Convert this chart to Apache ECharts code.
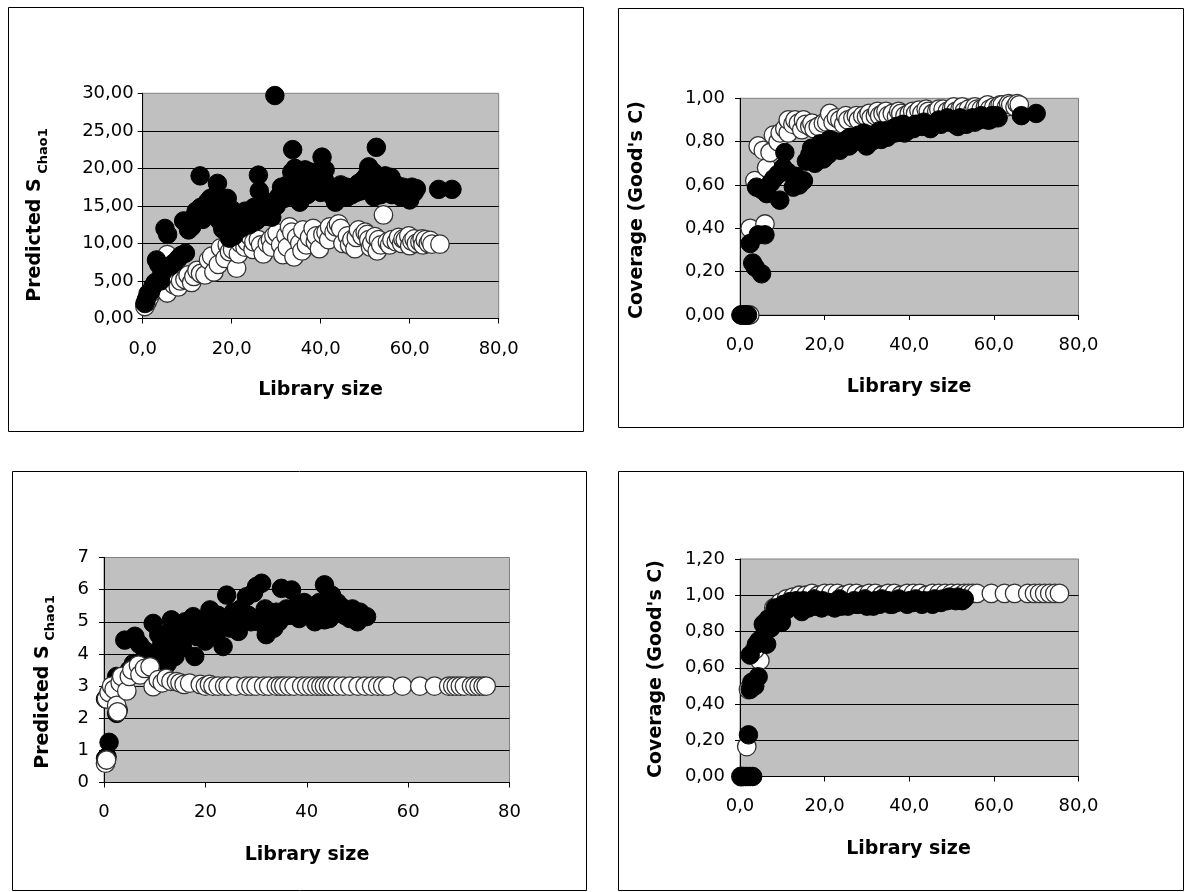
<!DOCTYPE html>
<html><head><meta charset="utf-8">
<script src="https://cdn.jsdelivr.net/npm/echarts@6/dist/echarts.min.js"></script>
<style>html,body{margin:0;padding:0;background:#fff;}#c{width:1192px;height:892px;}</style>
</head><body><div id="c"></div>
<script>
// ---------- tick labels ----------
const xTicksComma = ['0,0','20,0','40,0','60,0','80,0'];
const xTicksPlain = ['0','20','40','60','80'];
const p1YTicks = ['0,00','5,00','10,00','15,00','20,00','25,00','30,00'];
const p2YTicks = ['0,00','0,20','0,40','0,60','0,80','1,00'];
const p3YTicks = ['0','1','2','3','4','5','6','7'];
const p4YTicks = ['0,00','0,20','0,40','0,60','0,80','1,00','1,20'];

// ---------- panel 1: Predicted S Chao1 ----------
const p1Open = [[0.5,1.6],[1.0,2.2],[1.5,2.8],[2.0,3.5],[2.5,4.2],[3.0,4.0],[3.5,4.8],[4.5,3.8],[5.5,3.4],[5.5,8.5],[6.5,5.0],[7.0,4.5],[8.0,4.2],[8.5,5.0],[9.5,5.2],[10.2,5.8],[11.0,4.8],[11.5,5.6],[12.2,6.4],[13.0,6.0],[14.0,5.8],[14.8,7.8],[15.5,8.3],[16.0,6.2],[17.0,7.2],[17.5,9.4],[18.5,8.0],[19.0,9.8],[19.5,8.9],[20.2,9.2],[21.1,6.7],[21.5,8.6],[22.0,10.0],[23.0,9.5],[23.5,10.2],[24.2,10.9],[24.8,9.2],[25.0,10.2],[26.0,10.5],[26.5,9.8],[27.1,8.6],[28.0,10.0],[28.7,10.5],[29.0,9.5],[29.5,11.0],[30.2,11.4],[31.0,9.8],[31.5,8.5],[32.2,11.0],[32.5,9.5],[33.0,12.2],[33.5,11.5],[34.0,8.2],[34.6,10.8],[35.3,10.0],[35.8,9.0],[36.0,11.8],[36.8,9.8],[37.5,10.8],[38.3,12.0],[38.8,10.2],[39.0,11.0],[39.7,9.3],[40.5,11.2],[41.2,11.5],[41.8,10.5],[42.0,12.2],[43.0,11.5],[43.5,12.2],[44.0,12.6],[44.5,12.0],[45.0,10.0],[46.0,11.0],[46.5,9.8],[47.0,10.5],[47.7,9.3],[48.0,10.8],[48.5,11.8],[49.3,11.0],[50.0,11.5],[50.5,11.2],[50.8,10.5],[51.2,9.5],[51.5,10.0],[52.2,10.9],[52.7,9.0],[53.0,10.5],[53.5,9.8],[54.1,13.8],[55.0,10.2],[55.5,9.8],[56.0,10.5],[57.0,10.2],[57.5,10.8],[58.2,10.0],[58.5,10.6],[59.0,10.5],[59.8,11.0],[60.0,9.7],[60.5,10.3],[61.0,10.6],[61.5,10.0],[62.3,10.2],[62.8,10.6],[63.0,9.8],[63.5,10.5],[64.2,10.0],[64.6,10.4],[65.0,9.9],[66.8,9.9]];
const p1Filled = [[0.5,2.0],[0.8,2.5],[1.2,3.3],[1.8,3.6],[2.3,4.3],[2.8,4.8],[3.1,7.8],[3.6,7.2],[4.0,5.0],[4.3,6.0],[5.0,12.0],[5.6,11.2],[6.2,7.0],[7.0,7.4],[8.0,8.0],[8.6,8.4],[9.2,13.0],[9.6,8.7],[10.3,11.8],[11.0,12.2],[11.5,13.5],[12.0,14.3],[12.9,19.0],[13.0,14.8],[13.5,13.2],[14.0,13.8],[14.5,15.5],[15.2,16.0],[15.8,14.2],[16.2,15.2],[16.5,16.5],[16.8,18.0],[17.0,14.5],[17.3,13.0],[17.8,15.7],[18.0,11.9],[18.5,12.8],[18.8,14.8],[19.0,16.0],[19.5,10.7],[20.0,14.5],[20.5,11.0],[21.0,13.5],[21.5,12.5],[22.0,12.0],[22.5,13.8],[23.0,14.3],[23.5,13.2],[24.0,12.5],[24.5,14.0],[25.0,14.8],[25.5,13.0],[26.0,19.1],[26.2,17.0],[26.8,14.5],[27.0,15.8],[27.5,13.6],[28.0,15.2],[28.5,14.0],[29.0,13.5],[29.7,29.7],[30.0,15.0],[30.5,16.2],[31.2,17.5],[31.8,16.0],[32.0,16.8],[32.5,17.8],[33.0,18.0],[33.5,19.5],[33.7,22.5],[34.2,20.0],[34.5,17.0],[34.8,19.0],[35.3,15.5],[35.8,17.2],[36.0,18.5],[36.5,19.8],[37.0,16.5],[37.5,18.0],[37.8,19.5],[38.0,17.0],[38.5,18.8],[39.0,19.5],[39.5,17.2],[40.0,16.8],[40.3,21.5],[40.8,18.5],[41.0,19.8],[41.5,17.8],[42.0,17.5],[42.5,16.4],[43.0,17.0],[43.3,15.5],[44.0,16.5],[44.5,17.8],[45.2,16.8],[45.8,17.5],[46.0,16.2],[46.5,16.8],[47.0,16.5],[47.5,17.0],[48.0,16.8],[48.5,18.0],[49.0,17.0],[49.6,18.5],[50.0,17.5],[50.3,19.0],[50.8,20.2],[51.0,18.5],[51.5,17.0],[51.8,19.5],[52.0,16.2],[52.5,22.8],[53.0,18.8],[53.5,16.5],[53.8,17.5],[54.5,19.0],[54.8,17.8],[55.5,17.2],[55.8,18.8],[56.0,16.5],[56.8,17.0],[57.0,17.8],[57.5,16.8],[58.0,16.2],[58.5,17.5],[59.0,17.0],[59.5,16.3],[60.0,15.8],[60.5,17.5],[61.0,16.8],[61.5,17.3],[66.5,17.2],[69.5,17.2]];

// ---------- panel 2: Coverage ----------
const p2Open = [[0.5,0],[1.2,0],[2.3,0],[2.4,0.40],[5.9,0.42],[3.5,0.62],[6.3,0.68],[4.3,0.78],[5.5,0.76],[7.1,0.75],[7.9,0.83],[9.0,0.80],[9.5,0.84],[10.6,0.86],[11.4,0.84],[11.4,0.90],[12.5,0.88],[13.0,0.90],[13.8,0.885],[14.6,0.855],[15.0,0.90],[15.5,0.88],[16.5,0.87],[17.0,0.885],[17.5,0.86],[18.5,0.87],[19.7,0.885],[20.5,0.89],[21.2,0.93],[22.0,0.89],[22.8,0.91],[23.6,0.90],[24.5,0.88],[25.0,0.92],[25.5,0.90],[26.7,0.91],[27.5,0.92],[28.0,0.90],[29.0,0.92],[29.9,0.915],[30.5,0.93],[31.0,0.91],[32.0,0.92],[32.5,0.94],[33.0,0.92],[33.8,0.93],[34.5,0.94],[35.0,0.92],[36.0,0.93],[37.0,0.915],[37.5,0.94],[38.0,0.93],[39.0,0.92],[40.0,0.93],[40.8,0.94],[41.5,0.93],[42.3,0.945],[43.0,0.93],[44.0,0.95],[44.5,0.94],[45.5,0.93],[46.5,0.94],[47.0,0.95],[48.0,0.95],[49.0,0.94],[50.0,0.95],[50.5,0.96],[51.0,0.94],[52.0,0.95],[52.5,0.96],[53.0,0.94],[54.0,0.95],[55.0,0.94],[55.5,0.96],[56.0,0.95],[57.0,0.95],[58.0,0.96],[58.5,0.97],[59.0,0.95],[60.0,0.96],[61.0,0.96],[61.5,0.97],[62.0,0.97],[63.0,0.96],[63.5,0.975],[64.0,0.97],[65.0,0.96],[65.5,0.975],[66.0,0.97]];
const p2Filled = [[0.2,0],[0.6,0],[1.0,0],[1.4,0],[1.8,0],[2.4,0.33],[3.0,0.24],[3.6,0.22],[4.3,0.37],[5.1,0.19],[5.9,0.37],[3.9,0.59],[5.0,0.58],[6.3,0.56],[7.3,0.61],[8.0,0.63],[9.4,0.53],[9.0,0.65],[10.2,0.68],[10.6,0.75],[11.2,0.66],[12.6,0.59],[13.2,0.64],[14.0,0.60],[15.0,0.62],[15.7,0.71],[16.5,0.74],[16.9,0.77],[17.2,0.74],[17.7,0.70],[18.3,0.75],[18.9,0.79],[19.2,0.76],[19.7,0.72],[20.3,0.78],[20.8,0.74],[21.2,0.81],[22.0,0.79],[22.5,0.80],[23.0,0.78],[23.6,0.76],[24.5,0.80],[25.3,0.81],[25.8,0.78],[26.0,0.82],[27.0,0.80],[27.5,0.82],[28.0,0.83],[28.8,0.81],[29.3,0.84],[29.9,0.78],[30.7,0.83],[31.0,0.80],[31.5,0.82],[32.5,0.84],[33.0,0.85],[33.4,0.81],[34.3,0.85],[34.8,0.82],[35.0,0.84],[36.2,0.86],[36.6,0.84],[37.0,0.87],[38.0,0.86],[38.5,0.88],[38.9,0.84],[39.5,0.85],[40.0,0.87],[41.0,0.86],[41.5,0.88],[42.0,0.88],[43.0,0.87],[43.5,0.89],[44.4,0.87],[45.0,0.86],[45.5,0.88],[46.5,0.89],[47.0,0.90],[47.5,0.88],[48.5,0.90],[49.0,0.91],[49.5,0.89],[50.2,0.90],[50.8,0.88],[51.5,0.87],[52.0,0.91],[52.5,0.89],[53.0,0.90],[53.5,0.88],[54.5,0.90],[55.0,0.91],[55.5,0.89],[56.5,0.90],[57.0,0.92],[57.5,0.91],[58.5,0.90],[59.0,0.90],[59.5,0.92],[60.2,0.91],[60.6,0.92],[61.0,0.91],[66.5,0.92],[70.0,0.93]];

// ---------- panel 3: Predicted S Chao1 ----------
const p3Filled = [[0.3,0.75],[0.6,0.8],[1.0,1.25],[0.3,2.6],[0.8,2.7],[1.5,2.8],[2.5,3.3],[2.8,2.25],[2.5,2.15],[3.5,3.2],[4.1,4.43],[5.0,3.5],[5.8,3.7],[6.1,4.55],[7.0,4.3],[8.1,4.1],[8.8,3.9],[9.7,4.95],[10.3,4.0],[10.8,4.6],[11.4,4.3],[12.0,4.6],[12.5,3.7],[13.3,5.06],[13.5,4.2],[14.0,3.92],[14.5,4.8],[15.0,4.5],[15.5,4.2],[16.0,5.0],[16.5,4.6],[17.6,5.16],[17.9,3.92],[18.3,4.54],[18.8,5.0],[19.0,4.8],[19.5,4.6],[20.0,4.4],[20.9,5.37],[21.0,4.8],[21.5,5.0],[22.2,4.64],[22.5,5.2],[23.0,5.0],[23.5,4.23],[24.2,5.83],[24.5,5.0],[25.0,4.8],[25.5,5.3],[26.0,5.2],[26.5,4.7],[27.0,5.4],[27.5,5.0],[28.1,5.78],[28.5,5.2],[29.0,5.0],[29.5,5.9],[30.1,6.1],[30.5,5.0],[31.1,6.2],[31.4,5.16],[31.8,5.4],[32.0,4.6],[32.8,5.0],[33.0,5.2],[33.5,4.8],[34.0,5.3],[34.5,5.0],[35.0,6.04],[35.5,5.2],[36.0,5.4],[36.5,5.2],[37.0,5.99],[37.5,5.2],[38.0,5.5],[38.5,5.1],[39.0,5.3],[39.5,5.6],[40.0,5.2],[40.9,5.42],[41.0,5.2],[41.6,5.0],[42.0,5.3],[42.5,5.6],[43.5,6.15],[43.5,5.06],[44.2,5.7],[44.5,5.1],[44.9,5.83],[45.5,5.3],[46.0,5.6],[46.8,5.47],[47.5,5.2],[48.0,5.3],[48.5,5.1],[49.0,5.4],[49.5,5.16],[50.0,5.0],[50.5,5.3],[51.0,5.2],[51.8,5.16]];
const p3Open = [[0.3,0.6],[0.5,0.7],[0.5,2.6],[1.0,2.8],[1.5,3.0],[2.0,2.9],[2.5,2.4],[2.7,2.2],[3.2,3.1],[3.5,3.3],[4.5,2.85],[5.0,3.3],[5.5,3.5],[6.8,3.65],[7.1,3.35],[8.0,3.55],[9.1,3.6],[9.7,2.98],[10.7,3.2],[11.5,3.1],[12.3,3.24],[13.2,3.15],[14.3,3.14],[15.0,3.1],[15.8,3.05],[16.9,3.09],[19.0,3.05],[20.0,3.0],[20.8,3.05],[21.5,3.0],[22.5,3.0],[23.8,3.0],[24.5,3.0],[26.0,3.0],[28.0,3.0],[29.0,3.0],[30.0,3.0],[31.5,3.0],[32.5,3.0],[34.0,3.0],[34.8,3.0],[35.5,3.0],[36.5,3.0],[37.5,3.0],[39.0,3.0],[40.0,3.0],[41.0,3.0],[42.0,3.0],[42.8,3.0],[43.5,3.0],[44.3,3.0],[45.0,3.0],[46.0,3.0],[47.2,3.0],[48.5,3.0],[50.1,3.0],[51.5,3.0],[52.8,3.0],[54.0,3.0],[55.0,3.0],[56.0,3.0],[58.9,3.0],[62.3,3.0],[65.2,3.0],[68.0,3.0],[68.8,3.0],[69.5,3.0],[70.3,3.0],[71.1,3.0],[72.5,3.0],[73.2,3.0],[74.0,3.0],[74.8,3.0],[75.4,3.0]];

// ---------- panel 4: Coverage ----------
const p4Open = [[0.2,0],[1.6,0.165],[2.0,0.48],[4.7,0.64],[3.5,0.70],[6.0,0.85],[8.0,0.93],[9.5,0.96],[11.0,0.98],[12.5,0.99],[14.0,1.0],[15.5,1.0],[17.0,1.01],[18.5,1.0],[20.0,1.01],[21.5,1.01],[23.0,1.01],[24.5,1.0],[26.0,1.01],[27.5,1.01],[29.0,1.0],[30.5,1.01],[32.0,1.01],[33.5,1.0],[35.0,1.01],[36.5,1.01],[38.0,1.0],[39.5,1.01],[41.0,1.01],[42.5,1.01],[44.0,1.0],[45.5,1.01],[47.0,1.01],[48.5,1.01],[50.0,1.01],[51.5,1.01],[53.0,1.01],[54.0,1.01],[55.0,1.01],[56.0,1.01],[59.4,1.01],[62.5,1.01],[64.9,1.01],[68.0,1.01],[69.6,1.01],[70.8,1.01],[72.0,1.01],[73.2,1.01],[74.4,1.01],[75.5,1.01]];
const p4Filled = [[0.3,0],[0.8,0],[1.3,0],[1.8,0],[2.4,0],[3.0,0],[2.0,0.23],[2.4,0.48],[2.8,0.52],[3.5,0.50],[4.3,0.55],[2.4,0.67],[3.9,0.73],[4.5,0.75],[5.5,0.84],[6.0,0.80],[6.3,0.73],[6.7,0.87],[7.3,0.82],[8.3,0.93],[8.8,0.88],[9.8,0.85],[10.3,0.95],[11.0,0.92],[11.8,0.965],[12.5,0.94],[13.3,0.97],[14.0,0.93],[14.6,0.91],[15.0,0.97],[15.5,0.95],[16.2,0.93],[16.9,0.965],[17.5,0.98],[17.8,0.94],[18.5,0.96],[19.3,0.93],[19.5,0.97],[20.0,0.95],[21.0,0.96],[21.5,0.94],[22.4,0.93],[23.0,0.96],[23.5,0.98],[24.0,0.94],[25.0,0.96],[25.5,0.94],[26.0,0.95],[27.0,0.97],[27.5,0.95],[28.0,0.95],[29.0,0.96],[29.5,0.98],[30.0,0.94],[31.0,0.96],[31.5,0.94],[32.0,0.97],[33.0,0.95],[33.5,0.98],[34.0,0.96],[35.0,0.97],[35.5,0.95],[36.0,0.95],[37.0,0.96],[37.5,0.98],[38.0,0.97],[39.0,0.96],[39.5,0.95],[40.0,0.97],[41.0,0.96],[41.5,0.98],[42.0,0.97],[43.0,0.95],[43.5,0.97],[44.0,0.96],[45.0,0.97],[45.5,0.95],[46.0,0.98],[47.0,0.97],[47.5,0.96],[48.0,0.98],[49.0,0.97],[49.5,0.99],[50.0,0.98],[51.0,0.97],[51.5,0.99],[52.0,0.98],[52.5,0.97],[53.0,0.98]];

// ---------- styling / layout ----------
const FONT = '"DejaVu Sans", "Liberation Sans", Arial, sans-serif';
const grids = [
  {left:142.7, top:93.3, width:356, height:225.2},
  {left:740, top:98.3, width:338.5, height:216.7},
  {left:104, top:557.5, width:405.5, height:225},
  {left:740, top:559, width:338.5, height:217.5}
];
function mkX(i, labels, margin){
  return {gridIndex:i, type:'value', min:0, max:80, interval:20,
    axisLine:{show:true, lineStyle:{color:'#000', width:1}},
    axisTick:{show:true, length:5, lineStyle:{color:'#000'}},
    splitLine:{show:false},
    axisLabel:{margin:margin, color:'#000', fontSize:18, fontFamily:FONT,
      formatter:v=>labels[Math.round(v/20)]}};
}
function mkY(i, max, step, labels, margin){
  return {gridIndex:i, type:'value', min:0, max:max, interval:step,
    axisLine:{show:true, lineStyle:{color:'#000', width:1}},
    axisTick:{show:true, length:5, lineStyle:{color:'#000'}},
    splitLine:{show:true, showMaxLine:false, lineStyle:{color:'#000', width:1}},
    axisLabel:{margin:margin, color:'#000', fontSize:18, fontFamily:FONT,
      formatter:v=>labels[Math.round(v/step)]}};
}
function ser(i, data, filled){
  return {type:'scatter', xAxisIndex:i, yAxisIndex:i, data:data, symbol:'circle', symbolSize:18.5,
    clip:false, silent:true,
    itemStyle: filled ? {color:'#000', borderColor:'#000', borderWidth:1, opacity:1}
                      : {color:'#fff', borderColor:'#333', borderWidth:1.3, opacity:1}};
}
function title(x, y, t, rot, size){
  return {type:'text', x:x, y:y, rotation:rot||0, z:100,
    style:{text:t, fill:'#000', font:'bold '+(size||19)+'px '+FONT, align:'center', verticalAlign:'middle'}};
}
function box(x, y, w, h){
  return {type:'rect', shape:{x:x, y:y, width:w, height:h}, z:-1,
    style:{fill:'none', stroke:'#000', lineWidth:1}};
}
const R = Math.PI/2;
const option = {
  animation:false,
  backgroundColor:'#fff',
  grid: grids.map(g=>Object.assign({show:true, backgroundColor:'#c0c0c0', borderColor:'#808080', borderWidth:1}, g)),
  xAxis:[mkX(0,xTicksComma,22), mkX(1,xTicksComma,21), mkX(2,xTicksPlain,21), mkX(3,xTicksComma,21)],
  yAxis:[mkY(0,30,5,p1YTicks,9), mkY(1,1,0.2,p2YTicks,15), mkY(2,7,1,p3YTicks,15), mkY(3,1.2,0.2,p4YTicks,15)],
  series:[
    ser(0,p1Open,false), ser(0,p1Filled,true),
    ser(1,p2Open,false), ser(1,p2Filled,true),
    ser(2,p3Filled,true), ser(2,p3Open,false),
    ser(3,p4Open,false), ser(3,p4Filled,true)
  ],
  graphic:{elements:[
    box(8.5,7.5,575,424), box(618.5,8.5,565,419), box(12.5,471.5,574,419), box(618.5,471.5,565,419),
    title(320.5,390,'Library size'), title(909,387.5,'Library size'),
    title(307,855,'Library size'), title(908.5,849.5,'Library size'),
    title(35.5,240,'Predicted S',R), title(43.5,151,'Chao1',R,13),
    title(43,707,'Predicted S',R), title(50.5,618,'Chao1',R,13),
    title(637,210,"Coverage (Good's C)",R), title(656,669,"Coverage (Good's C)",R)
  ]}
};
echarts.init(document.getElementById('c')).setOption(option);
</script></body></html>
